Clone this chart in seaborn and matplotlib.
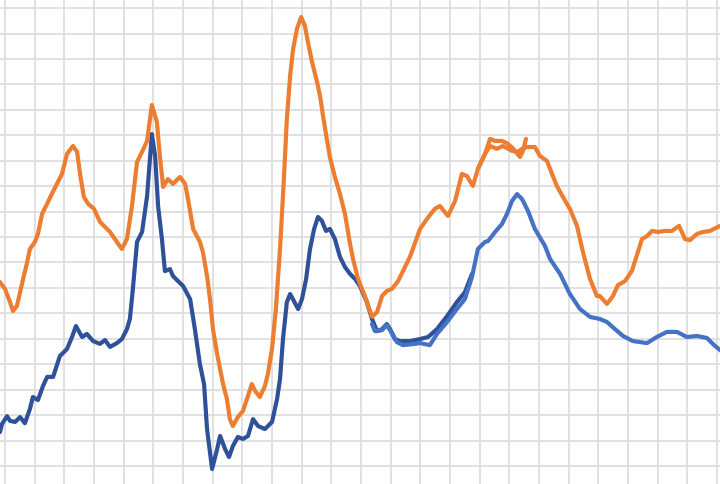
import matplotlib
matplotlib.use("Agg")
import matplotlib.pyplot as plt
import numpy as np
import pandas as pd
import seaborn as sns

# x in weeks (one gridline per week), y in value units (one gridline per 10)
dark_blue_x = [-0.17, -0.10, 0.07, 0.17, 0.34, 0.51, 0.67, 0.84, 0.94, 1.11, 1.28, 1.42, 1.62, 1.85,
               2.09, 2.26, 2.39, 2.60, 2.76, 2.97, 3.20, 3.37, 3.54, 3.77, 3.94, 4.11, 4.21, 4.31,
               4.45, 4.62, 4.79, 4.95, 5.06, 5.16, 5.29, 5.39, 5.56, 5.66, 5.83, 6.00, 6.24, 6.40,
               6.57, 6.71, 6.81, 6.98, 7.15, 7.25, 7.42, 7.55, 7.68, 7.85, 8.02, 8.19, 8.36, 8.53,
               8.76, 9.00, 9.17, 9.27, 9.37, 9.50, 9.61, 9.74, 9.88, 10.01, 10.15, 10.28, 10.42,
               10.55, 10.68, 10.82, 10.95, 11.12, 11.29, 11.46, 11.63, 11.80, 11.96, 12.20, 12.37,
               12.54, 12.71, 12.87, 12.98, 13.14, 13.31, 13.65, 13.99, 14.26, 14.56, 14.90, 15.23,
               15.50, 15.74]
dark_blue_y = [13.3, 16.5, 19.6, 17.7, 17.3, 19.2, 16.8, 22.4, 27.1, 25.9, 31.4, 35.0, 35.0, 43.2,
               46.0, 50.7, 55.0, 50.7, 51.9, 49.1, 48.0, 49.5, 46.8, 48.3, 49.9, 53.8, 57.8, 69.6,
               88.1, 92.0, 106.2, 130.5, 121.9, 102.2, 89.2, 76.6, 77.4, 74.7, 72.7, 70.8, 65.6, 53.8,
               40.0, 32.1, 14.5, -1.2, 6.6, 11.8, 6.6, 3.5, 7.8, 11.4, 10.6, 11.8, 18.4, 15.7,
               14.5, 17.3, 26.3, 34.2, 49.9, 64.4, 67.6, 64.8, 61.7, 65.6, 73.5, 85.3, 93.2,
               97.9, 96.4, 92.4, 93.2, 89.2, 82.2, 78.2, 75.5, 73.5, 70.8, 64.4, 57.8,
               53.0, 53.8, 55.8, 53.8, 49.9, 49.1, 49.1, 49.9, 50.7, 53.8, 58.9, 64.4,
               68.3, 75.5]

light_blue_x = [12.37, 12.47, 12.71, 12.87, 12.98, 13.21, 13.41, 13.75, 13.99, 14.32, 14.56, 14.90,
                15.23, 15.50, 15.74, 15.94, 16.18, 16.28, 16.52, 16.75, 16.92, 17.09, 17.26, 17.43,
                17.63, 17.86, 18.20, 18.37, 18.71, 19.04, 19.38, 19.72, 20.05, 20.29, 20.56, 20.83,
                21.16, 21.64, 21.97, 22.31, 22.65, 22.98, 23.32, 23.66, 23.93, 24.10, 24.27]
light_blue_y = [55.8, 53.0, 53.4, 55.4, 53.4, 48.7, 47.5, 47.9, 48.3, 47.5, 51.9, 56.6,
                61.7, 65.6, 74.3, 85.3, 88.1, 88.4, 92.0, 95.1, 99.1, 104.2, 106.9, 104.9,
                100.2, 93.2, 86.5, 81.4, 75.5, 67.6, 61.7, 58.6, 57.8, 56.6, 53.8, 51.1,
                49.1, 48.3, 50.7, 52.7, 52.7, 50.7, 51.1, 50.3, 47.2, 45.6, 44.0]

orange_a_x = [-0.17, 0.00, 0.17, 0.27, 0.40, 0.51, 0.61, 0.74, 0.84, 1.01, 1.11, 1.25, 1.42, 1.58,
              1.75, 1.92, 2.09, 2.29, 2.43, 2.53, 2.66, 2.80, 3.00, 3.20, 3.54, 3.77, 3.94, 4.11,
              4.28, 4.45, 4.62, 4.79, 4.95, 5.12, 5.22, 5.33, 5.49, 5.66, 5.90, 6.07, 6.17, 6.34,
              6.57, 6.67, 6.81, 6.91, 7.01, 7.15, 7.25, 7.35, 7.48, 7.58, 7.68, 7.85, 8.02, 8.19,
              8.32, 8.43, 8.59, 8.76, 8.86, 9.00, 9.13, 9.27, 9.40, 9.50, 9.61, 9.71, 9.84, 9.98,
              10.11, 10.21, 10.35, 10.52, 10.62, 10.72, 10.82, 10.95, 11.12, 11.29, 11.46, 11.63,
              11.73, 11.90, 12.13, 12.37, 12.54, 12.71, 12.87, 13.04, 13.25, 13.48, 13.65, 13.99,
              14.22, 14.49, 14.66, 14.93, 15.17, 15.40, 15.57, 15.77, 15.94, 16.18, 16.35, 16.52,
              16.75, 16.92, 17.12, 17.36, 17.46, 17.56]
orange_a_y = [72.3, 69.6, 64.4, 60.9, 62.9, 68.4, 73.5, 79.8, 85.3, 88.1, 91.2, 99.1, 103.1, 107.0,
              110.9, 114.8, 122.7, 125.8, 123.5, 114.8, 105.7, 103.1, 101.1, 96.0, 92.0, 88.1, 85.3, 89.2,
              102.2, 119.5, 123.5, 127.8, 141.9, 135.2, 121.9, 109.7, 112.8, 110.9, 113.6, 110.9, 104.9, 93.2,
              88.1, 84.1, 74.7, 65.6, 53.8, 44.0, 38.1, 32.2, 26.3, 18.4, 15.7, 19.2, 21.6, 27.5,
              32.2, 29.5, 27.1, 31.4, 36.1, 46.0, 61.7, 85.3, 112.8, 136.4, 153.3, 163.9, 171.8, 176.5,
              173.0, 166.7, 158.8, 150.9, 145.4, 137.6, 130.5, 121.5, 113.6, 107.0, 99.1, 87.3,
              81.4, 73.5, 66.8, 58.6, 60.5, 66.8, 68.8, 69.6, 72.7, 78.2, 82.2, 93.2,
              97.1, 101.1, 102.2, 98.3, 104.2, 114.8, 114.0, 110.1, 116.8, 122.7, 128.6, 127.8,
              127.8, 126.9, 124.9, 121.5, 123.9, 128.6]

orange_b_x = [15.94, 16.18, 16.35, 16.58, 16.78, 17.09, 17.29, 17.43, 17.59, 17.86, 18.03, 18.27,
              18.44, 18.60, 18.81, 19.04, 19.28, 19.38, 19.48, 19.72, 19.95, 20.05, 20.29, 20.49,
              20.66, 20.90, 21.13, 21.30, 21.47, 21.64, 21.81, 22.01, 22.24, 22.48, 22.72, 22.92,
              23.09, 23.32, 23.53, 23.76, 24.03, 24.27]
orange_b_y = [116.8, 122.7, 125.8, 124.7, 125.8, 123.9, 123.5, 124.7, 125.4, 125.4, 121.9, 119.9,
              114.8, 110.1, 105.7, 101.1, 94.4, 89.2, 84.1, 73.5, 66.8, 66.8, 63.7, 66.8,
              71.1, 72.7, 76.7, 82.9, 89.2, 90.4, 92.4, 92.0, 92.4, 92.4, 94.4, 89.2,
              88.8, 91.2, 92.0, 92.4, 94.0, 95.1]

series_names = ["dark_blue", "light_blue", "orange_a", "orange_b"]
series_colors = ["#2E5199", "#4472C4", "#ED7D31", "#ED7D31"]


def build_frame() -> pd.DataFrame:
    parts = []
    for name, xs, ys in zip(series_names,
                            [dark_blue_x, light_blue_x, orange_a_x, orange_b_x],
                            [dark_blue_y, light_blue_y, orange_a_y, orange_b_y]):
        parts.append(pd.DataFrame({"week": xs, "value": ys, "series": name}))
    return pd.concat(parts, ignore_index=True)


def main() -> None:
    sns.set_style("whitegrid", {"grid.color": "#DCDCDC"})
    df = build_frame()

    fig = plt.figure(figsize=(7.2, 4.85), dpi=100)
    ax = fig.add_axes([0, 0, 1, 1])

    sns.lineplot(data=df, x="week", y="value", hue="series",
                 palette=dict(zip(series_names, series_colors)),
                 estimator=None, sort=False, linewidth=3.0, legend=False, ax=ax)
    for line in ax.get_lines():
        line.set_solid_joinstyle("round")
        line.set_solid_capstyle("round")

    ax.set_xlim(-0.1685, 24.10)
    ax.set_ylim(-7.1, 183.6)
    ax.set_xticks(np.arange(0, 25, 1))
    ax.set_yticks(np.arange(0, 190, 10))
    ax.grid(True, color="#DCDCDC", linewidth=1.2)
    ax.tick_params(length=0, labelbottom=False, labelleft=False)
    ax.set_xlabel("")
    ax.set_ylabel("")
    for spine in ax.spines.values():
        spine.set_visible(False)

    fig.savefig("out.png", dpi=100)
    plt.close(fig)


if __name__ == "__main__":
    main()
